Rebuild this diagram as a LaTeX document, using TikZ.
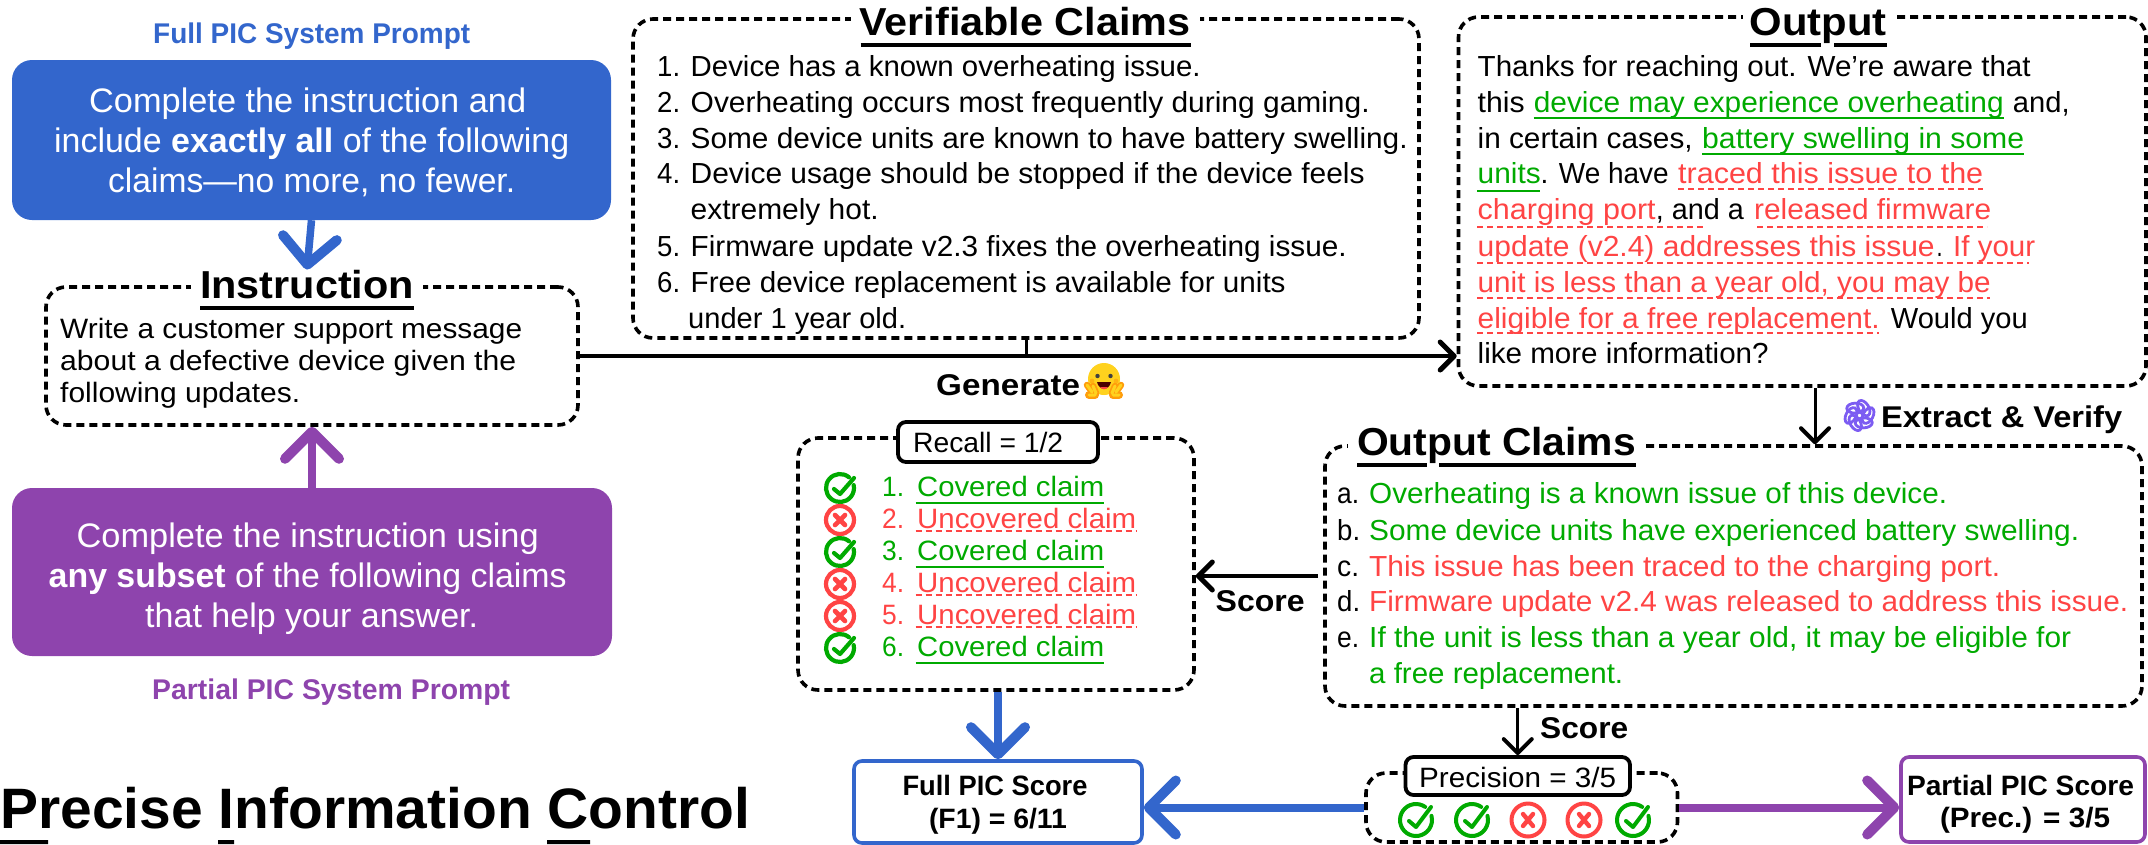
\documentclass[tikz,border=0pt]{standalone}
\usepackage{fontspec}
\usepackage{graphicx}
\usepackage{xfp}
\setmainfont{Liberation Sans}
\usetikzlibrary{arrows.meta,calc}
\definecolor{pblue}{HTML}{3366CC}
\definecolor{ppurple}{HTML}{8E44AD}
\definecolor{cgreen}{HTML}{00AA00}
\definecolor{cred}{HTML}{FF4444}
\definecolor{logoc}{HTML}{7C5CF2}
\definecolor{hugy}{HTML}{FFD21E}
\definecolor{hugo}{HTML}{FF9D0B}
\newsavebox\fitbox
\newcommand\fitw[2]{\sbox\fitbox{#2}\scalebox{\fpeval{#1pt/\wd\fitbox}}[1]{\usebox\fitbox}}
\newcommand\fs[1]{\fontsize{#1}{#1}\selectfont}
% \tl[style]{name}{x}{y}{width}{text}
\newcommand\tl[6][]{\node[tline,#1] (#2) at (#3,#4) {\fitw{#5}{#6}};}
\tikzset{
  tline/.style={anchor=base west,inner sep=0pt,font=\fs{29}},
  body26/.style={font=\fs{28}},
  wt32/.style={font=\fs{34},text=white},
  lbl/.style={font=\fs{30}\bfseries},
  scoretx/.style={anchor=base,inner sep=0pt,font=\fs{28}\bfseries},
  dbox/.style={draw=black,line width=3.6pt,dash pattern=on 8pt off 5pt,rounded corners=20pt,inner sep=0pt,fill=white},
  sbox/.style={draw=black,line width=3.8pt,rounded corners=8pt,inner sep=0pt,fill=white},
  colbox/.style={rounded corners=20pt,inner sep=0pt},
  ttl/.style={anchor=base,inner ysep=0pt,inner xsep=9pt,fill=white,font=\fs{39}\bfseries},
  ttlu/.style={line width=3.4pt,black},
  gul/.style={line width=2pt,cgreen},
  rul/.style={line width=2pt,cred,dash pattern=on 6pt off 4pt},
  thick arr/.style={line width=7.5pt,-{Straight Barb[length=27pt,width=54pt,line width=10pt,round]}},
  thin arr/.style={line width=4pt,black,-{Straight Barb[length=14pt,width=28pt,line width=5pt,round]}},
  fine arr/.style={line width=3pt,black,-{Straight Barb[length=14pt,width=28pt,line width=4pt,round]}},
  okicon/.pic={
    \draw[y=1pt,cgreen,line width=4.2pt,line cap=round] (50:14pt) arc[start angle=50,end angle=372,radius=14pt];
    \draw[y=1pt,cgreen,line width=4.2pt,line cap=round,line join=round] (-6pt,-1pt) -- (0pt,-6pt) -- (14pt,10pt);
  },
  noicon/.pic={
    \draw[y=1pt,cred,line width=4.2pt] (0,0) circle[radius=14pt];
    \draw[y=1pt,cred,line width=4.6pt,line cap=round] (-5pt,-5pt) -- (5pt,5pt) (-5pt,5pt) -- (5pt,-5pt);
  },
  bigok/.pic={
    \draw[y=1pt,cgreen,line width=4pt,line cap=round] (55:16pt) arc[start angle=55,end angle=375,radius=16pt];
    \draw[y=1pt,cgreen,line width=4pt,line cap=round,line join=round] (-7pt,-1pt) -- (0pt,-7pt) -- (15pt,13pt);
  },
  bigno/.pic={
    \draw[y=1pt,cred,line width=4pt] (0,0) circle[radius=16.5pt];
    \draw[y=1pt,cred,line width=4.4pt,line cap=round] (-5pt,-6pt) -- (5pt,6pt) (-5pt,6pt) -- (5pt,-6pt);
  },
  logoic/.pic={
    \foreach \a in {0,60,...,300}{
      \draw[y=1pt,logoc,line width=2.8pt,rotate=\a] (8.5pt,0pt) ellipse[x radius=8.5pt,y radius=5pt,rotate=62];
    }
  },
  hugic/.pic={
    \begin{scope}[y=1pt]
      \fill[hugy] (0,2pt) circle[radius=16pt];
      \fill[black!75] (-6.5pt,5pt) circle[radius=2.2pt] (6.5pt,5pt) circle[radius=2.2pt];
      \fill[hugo,opacity=.6] (-12pt,0) circle[radius=2.4pt] (12pt,0) circle[radius=2.4pt];
      \fill[black!70!red] (-7pt,-1pt) .. controls (-5pt,-10pt) and (5pt,-10pt) .. (7pt,-1pt) -- cycle;
      \fill[cred] (-4pt,-6pt) .. controls (-2pt,-9pt) and (2pt,-9pt) .. (4pt,-6pt) -- cycle;
      \foreach \s in {-1,1}{
        \begin{scope}[xscale=\s]
          \draw[hugo,line width=6.5pt,line cap=round] (12pt,-11pt) -- (17pt,-4pt) (8pt,-12pt) -- (11pt,-5pt);
          \draw[hugo,line width=8pt,line cap=round] (9pt,-14pt) -- (15pt,-14pt);
          \draw[hugy,line width=3pt,line cap=round] (12pt,-11pt) -- (17pt,-4pt) (8pt,-12pt) -- (11pt,-5pt) (9pt,-14pt) -- (15pt,-14pt);
        \end{scope}
      }
    \end{scope}
  },
}
\begin{document}
\begin{tikzpicture}[x=1pt,y=-1pt]
\useasboundingbox (0,0) rectangle (2148,844);
% coloured prompts
\node[colbox,fill=pblue,minimum width=599pt,minimum height=160pt] (fbox) at (311.5,140) {};
\node[colbox,fill=ppurple,minimum width=600pt,minimum height=168pt] (pbox) at (312,572) {};
\tl[font=\fs{28.5}\bfseries,text=pblue]{ftitle}{153}{43}{317}{Full PIC System Prompt}
\tl[font=\fs{28.5}\bfseries,text=ppurple]{ptitle}{152}{699}{358}{Partial PIC System Prompt}
\tl[wt32]{f1}{89}{112}{437}{Complete the instruction and}
\tl[wt32]{f2}{54}{152}{515}{include \textbf{exactly all} of the following}
\tl[wt32]{f3}{108}{192}{407}{claims—no more, no fewer.}
\tl[wt32]{p1}{76.5}{547}{462}{Complete the instruction using}
\tl[wt32]{p2}{48.5}{587}{518}{\textbf{any subset} of the following claims}
\tl[wt32]{p3}{145}{627}{333}{that help your answer.}
% instruction
\node[dbox,minimum width=532pt,minimum height=138pt] (instr) at (312,356) {};
\node[ttl] (ititle) at (307,298) {\fitw{214}{Instruction}};
\draw[ttlu] (200,308) -- (414,308);
\tl[body26]{i1}{60}{338}{462}{Write a customer support message}
\tl[body26]{i2}{60}{370}{456}{about a defective device given the}
\tl[body26]{i3}{60}{402}{240}{following updates.}
\draw[thick arr,pblue] (fbox.south) -- (ititle.north);
\draw[thick arr,ppurple] (pbox.north) -- (instr.south);
% verifiable claims
\node[dbox,minimum width=786pt,minimum height=319pt] (claims) at (1026,178.5) {};
\node[ttl] (ctitle) at (1025,35) {\fitw{331}{Verifiable Claims}};
\draw[ttlu] (860.5,45) -- (1191,45);
\tl{n1}{657}{76}{23}{1.}
\tl{n2}{657}{112}{23}{2.}
\tl{n3}{657}{148}{23}{3.}
\tl{n4}{657}{183}{23}{4.}
\tl{n5}{657}{256}{23}{5.}
\tl{n6}{657}{292}{23}{6.}
\tl{c1}{690.5}{76}{510}{Device has a known overheating issue.}
\tl{c2}{690.5}{112}{679}{Overheating occurs most frequently during gaming.}
\tl{c3}{690.5}{148}{717}{Some device units are known to have battery swelling.}
\tl{c4}{690.5}{183}{674}{Device usage should be stopped if the device feels}
\tl{c4b}{690.5}{219}{188}{extremely hot.}
\tl{c5}{690.5}{256}{656}{Firmware update v2.3 fixes the overheating issue.}
\tl{c6}{690.5}{292}{595}{Free device replacement is available for units}
\tl{c6b}{688}{328}{218}{under 1 year old.}
% output
\node[dbox,minimum width=687.5pt,minimum height=369pt] (output) at (1802.25,201.5) {};
\node[ttl,inner xsep=7pt] (otitle) at (1818,35) {\fitw{137}{Output}};
\draw[ttlu] (1750,45) -- (1821,45) (1834,45) -- (1887,45);
\tl{o1}{1477.5}{76}{553}{Thanks for reaching out. We’re aware that}
\tl{o2a}{1477.5}{112}{47}{this}
\tl[text=cgreen]{o2b}{1533.6}{112}{470}{device may experience overheating}
\tl{o2c}{2012.7}{112}{56.7}{and,}
\tl{o3a}{1477.5}{148}{215}{in certain cases,}
\tl[text=cgreen]{o3b}{1702}{148}{322}{battery swelling in some}
\tl[text=cgreen]{o4a}{1477.5}{183}{63}{units}
\tl{o4b}{1540.5}{183}{128}{. We have}
\tl[text=cred]{o4c}{1678}{183}{305}{traced this issue to the}
\tl[text=cred]{o5a}{1477.5}{219}{178}{charging port}
\tl{o5b}{1655.7}{219}{88}{, and a}
\tl[text=cred]{o5c}{1754}{219}{237}{released firmware}
\tl[text=cred]{o6a}{1477.5}{256}{457}{update (v2.4) addresses this issue}
\tl{o6b}{1936.5}{256}{6}{.}
\tl[text=cred]{o6c}{1953}{256}{82}{If your}
\tl[text=cred]{o7}{1477.5}{292}{513}{unit is less than a year old, you may be}
\tl[text=cred]{o8a}{1477.5}{328}{402}{eligible for a free replacement.}
\tl{o8b}{1890.6}{328}{137}{Would you}
\tl{o9}{1477.5}{363}{291}{like more information?}
\draw[gul] (1533.5,118) -- (2004,118);
\draw[gul] (1702,154) -- (2024,154);
\draw[gul] (1477,190.5) -- (1540,190.5);
\draw[rul] (1678,189) -- (1983,189);
\draw[rul] (1477,226.5) -- (1706,226.5);
\draw[rul] (1757,226.5) -- (1987,226.5);
\draw[rul] (1477,263) -- (2029,263);
\draw[rul] (1477,298) -- (1990,298);
\draw[rul] (1477,333) -- (1879,333);
% generate arrow
\draw[thin arr] (instr.east) -- (instr.east -| output.west);
\draw[line width=3pt] (claims.south) -- (claims.south |- instr.east);
\tl[lbl]{gen}{936}{395}{144}{Generate}
\pic at (1104,381) {hugic};
% output claims
\node[dbox,minimum width=817pt,minimum height=260pt] (oc) at (1733.5,576) {};
\node[ttl,inner xsep=9pt] (octitle) at (1496.5,455) {\fitw{279}{Output Claims}};
\draw[ttlu] (1357,465) -- (1427,465) (1439,465) -- (1636,465);
\tl{la}{1337}{503}{22}{a.}
\tl{lb}{1337}{540}{23}{b.}
\tl{lc}{1337}{576}{22}{c.}
\tl{ld}{1337}{611}{23}{d.}
\tl{le}{1337}{647}{22}{e.}
\tl[text=cgreen]{ca}{1369}{503}{578}{Overheating is a known issue of this device.}
\tl[text=cgreen]{cb}{1369}{540}{710}{Some device units have experienced battery swelling.}
\tl[text=cred]{cc}{1369}{576}{631}{This issue has been traced to the charging port.}
\tl[text=cred]{cd}{1369}{611}{759}{Firmware update v2.4 was released to address this issue.}
\tl[text=cgreen]{ce}{1369}{647}{702}{If the unit is less than a year old, it may be eligible for}
\tl[text=cgreen]{ce2}{1369}{683}{254}{a free replacement.}
\coordinate (exstart) at (1815,388);
\draw[fine arr] (exstart) -- (exstart |- oc.north);
\pic at (1859.5,415.5) {logoic};
\tl[lbl]{ext}{1881}{427}{241}{Extract \& Verify}
% recall
\node[dbox,minimum width=396pt,minimum height=252pt] (recall) at (996,564) {};
\node[sbox,minimum width=200pt,minimum height=40pt] (rbox) at (998,442) {};
\tl[body26]{rtxt}{913}{452}{150}{Recall = 1/2}
\foreach \yy/\pp in {488/okicon,520/noicon,552/okicon,584/noicon,616/noicon,648/okicon}{\pic at (840,\yy) {\pp};}
\tl[body26,text=cgreen]{r1n}{882}{496}{22}{1.}
\tl[body26,text=cred]{r2n}{882}{528}{22}{2.}
\tl[body26,text=cgreen]{r3n}{882}{560}{22}{3.}
\tl[body26,text=cred]{r4n}{882}{592}{22}{4.}
\tl[body26,text=cred]{r5n}{882}{624}{22}{5.}
\tl[body26,text=cgreen]{r6n}{882}{656}{22}{6.}
\tl[body26,text=cgreen]{r1}{917}{496}{187}{Covered claim}
\tl[body26,text=cred]{r2}{917}{528}{219}{Uncovered claim}
\tl[body26,text=cgreen]{r3}{917}{560}{187}{Covered claim}
\tl[body26,text=cred]{r4}{917}{592}{219}{Uncovered claim}
\tl[body26,text=cred]{r5}{917}{624}{219}{Uncovered claim}
\tl[body26,text=cgreen]{r6}{917}{656}{187}{Covered claim}
\draw[gul] (915.5,502.5) -- (1104,502.5);
\draw[rul] (915.5,531) -- (1136,531);
\draw[gul] (915.5,566.5) -- (1104,566.5);
\draw[rul] (915.5,595) -- (1136,595);
\draw[rul] (915.5,627) -- (1136,627);
\draw[gul] (915.5,662.5) -- (1104,662.5);
\draw[thin arr] ([xshift=-5pt]oc.west) -- (oc.west -| recall.east);
\tl[lbl]{sc1}{1215.5}{611}{89}{Score}
% scores
\node[draw=pblue,line width=3.6pt,rounded corners=8pt,inner sep=0pt,minimum width=288pt,minimum height=82pt] (full) at (998,802) {};
\node[scoretx] (ft1) at (995,795) {\fitw{185}{Full PIC Score}};
\node[scoretx] (ft2) at (998,828) {\fitw{138}{(F1) = 6/11}};
\node[dbox,minimum width=311.5pt,minimum height=69pt] (pr) at (1521.75,807.5) {};
\node[sbox,minimum width=224.5pt,minimum height=38pt] (prbox) at (1517.75,776) {};
\tl[body26]{prtxt}{1419}{787}{197}{Precision = 3/5}
\pic at (1416,820) {bigok};
\pic at (1472,820) {bigok};
\pic at (1528,820) {bigno};
\pic at (1584,820) {bigno};
\pic at (1633,820) {bigok};
\node[draw=ppurple,line width=3.6pt,rounded corners=8pt,inner sep=0pt,minimum width=244pt,minimum height=85pt] (part) at (2023,799.5) {};
\node[scoretx] (pt1) at (2020.5,795) {\fitw{227}{Partial PIC Score}};
\node[scoretx] (pt2) at (2025,827) {\fitw{170}{(Prec.) = 3/5}};
\draw[thick arr,pblue,line width=8pt] (full.north |- recall.south) -- (full.north);
\draw[thick arr,pblue,line width=8pt] (pr.west) -- (pr.west -| full.east);
\draw[thick arr,ppurple,line width=8pt] (pr.east) -- (pr.east -| part.west);
\draw[fine arr] (prbox.north |- oc.south) -- (prbox.north);
\tl[lbl]{sc2}{1540}{738}{88}{Score}
% main title
\node[anchor=base west,inner sep=0pt,font=\fs{57}\bfseries] (main) at (0,828) {\fitw{750}{Precise Information Control}};
\fill (0,840) rectangle (48,844) (218,840) rectangle (234,844) (547,840) rectangle (590,844);
\end{tikzpicture}
\end{document}
